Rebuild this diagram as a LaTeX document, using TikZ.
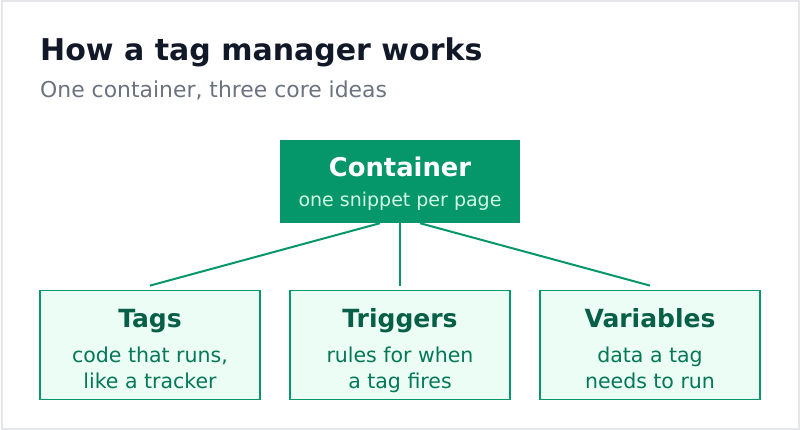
\documentclass[tikz,border=0pt]{standalone}
\usepackage{fontspec}
\setmainfont{DejaVu Sans}
\definecolor{brand}{HTML}{059669}
\definecolor{leaffill}{HTML}{ECFDF5}
\definecolor{leafhead}{HTML}{065F46}
\definecolor{leaftext}{HTML}{047857}
\definecolor{contsub}{HTML}{D1FAE5}
\definecolor{ink}{HTML}{111827}
\definecolor{muted}{HTML}{6B7280}
\definecolor{frame}{HTML}{E5E7EB}
\begin{document}
\begin{tikzpicture}[x=1pt,y=-1pt,
  leaf/.style={draw=brand,line width=1.8pt,fill=leaffill,minimum width=220pt,minimum height=109pt,inner sep=0pt},
  head/.style={anchor=base,inner sep=0pt,text=leafhead,font=\bfseries\fontsize{25}{30}\selectfont},
  sub/.style={anchor=base,inner sep=0pt,text=leaftext,font=\fontsize{20.5}{24}\selectfont},
  link/.style={draw=brand,line width=2pt}]
  \useasboundingbox (0,0) rectangle (800,430);
  \draw[frame,line width=2pt] (1.5,1.5) rectangle (798.5,428.5);
  \node[anchor=base west,inner sep=0pt,text=ink,font=\bfseries\fontsize{30}{36}\selectfont] (title) at (40,61) {How a tag manager works};
  \node[anchor=base west,inner sep=0pt,text=muted,font=\fontsize{21.9}{26}\selectfont] (subtitle) at (40,98) {One container, three core ideas};
  \node[fill=brand,minimum width=240pt,minimum height=83pt,inner sep=0pt] (cont) at (400,181.5) {};
  \node[head,text=white,font=\bfseries\fontsize{25.8}{30}\selectfont] (conth) at (400,177) {Container};
  \node[sub,text=contsub,font=\fontsize{19}{23}\selectfont] (contt) at (400,207) {one snippet per page};
  \node[leaf] (tags) at (150,345) {};
  \node[leaf] (trig) at (400,345) {};
  \node[leaf] (vars) at (650,345) {};
  \node[head] (tagsh) at (150,327) {Tags};
  \node[sub] (tagsa) at (150,362) {code that runs,};
  \node[sub] (tagsb) at (150,388) {like a tracker};
  \node[head] (trigh) at (400,327) {Triggers};
  \node[sub] (triga) at (400,362) {rules for when};
  \node[sub] (trigb) at (400,388) {a tag fires};
  \node[head] (varsh) at (650,327) {Variables};
  \node[sub] (varsa) at (650,362) {data a tag};
  \node[sub] (varsb) at (650,388) {needs to run};
  \draw[link] ([xshift=-20pt]cont.south) -- ([yshift=4pt]tags.north);
  \draw[link] (cont.south) -- ([yshift=4pt]trig.north);
  \draw[link] ([xshift=20pt]cont.south) -- ([yshift=4pt]vars.north);
\end{tikzpicture}
\end{document}
